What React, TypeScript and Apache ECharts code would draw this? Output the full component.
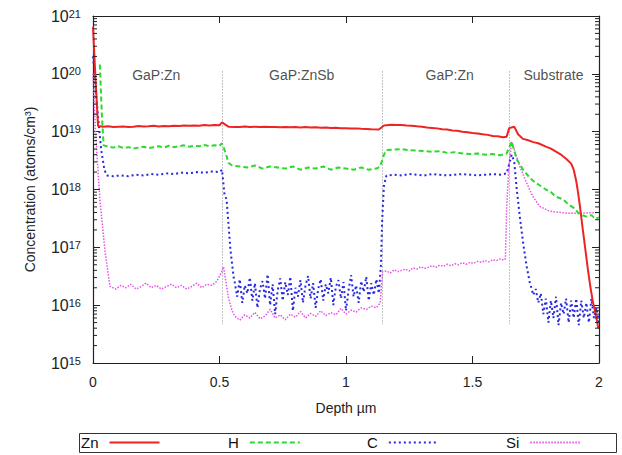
import React, { useEffect, useRef } from "react";
import * as echarts from "echarts";

const FONT = "'Liberation Sans', Arial, Helvetica, sans-serif";

const xTicks = [0, 0.5, 1, 1.5, 2];
const yMin = 1e15;
const yMax = 1e21;
const minorMultipliers = [2, 3, 4, 5, 6, 7, 8, 9];

const boundaries = [0.51, 1.145, 1.645];
const regionLabels = [
  { name: "GaP:Zn", value: [0.25, 9.5e19] },
  { name: "GaP:ZnSb", value: [0.825, 9.5e19] },
  { name: "GaP:Zn", value: [1.41, 9.5e19] },
  { name: "Substrate", value: [1.82, 9.5e19] },
];

const znData = [
  [0, 6.5e20], [0.01, 8e19], [0.02, 1.25e19], [0.04, 1.22e19], [0.06, 1.24e19], [0.08, 1.2e19],
  [0.1, 1.22e19], [0.12, 1.23e19], [0.14, 1.2e19], [0.16, 1.22e19], [0.18, 1.25e19], [0.2, 1.23e19],
  [0.22, 1.24e19], [0.24, 1.26e19], [0.26, 1.23e19], [0.28, 1.25e19], [0.3, 1.24e19], [0.32, 1.27e19],
  [0.34, 1.25e19], [0.36, 1.28e19], [0.38, 1.26e19], [0.4, 1.28e19], [0.42, 1.27e19], [0.44, 1.3e19],
  [0.46, 1.28e19], [0.48, 1.3e19], [0.5, 1.29e19], [0.51, 1.45e19], [0.52, 1.35e19],
  [0.535, 1.22e19], [0.56, 1.21e19], [0.58, 1.2e19], [0.6, 1.23e19], [0.62, 1.21e19], [0.64, 1.22e19],
  [0.66, 1.2e19], [0.68, 1.22e19], [0.7, 1.2e19], [0.72, 1.21e19], [0.74, 1.19e19], [0.76, 1.21e19],
  [0.78, 1.19e19], [0.8, 1.2e19], [0.82, 1.18e19], [0.84, 1.2e19], [0.86, 1.18e19], [0.88, 1.19e19],
  [0.9, 1.17e19], [0.92, 1.18e19], [0.94, 1.16e19], [0.96, 1.17e19], [0.98, 1.15e19], [1.0, 1.15e19],
  [1.02, 1.13e19], [1.04, 1.14e19], [1.06, 1.12e19], [1.08, 1.11e19], [1.1, 1.1e19], [1.13, 1.09e19],
  [1.15, 1.28e19], [1.18, 1.32e19], [1.2, 1.3e19], [1.22, 1.31e19], [1.24, 1.28e19], [1.26, 1.27e19],
  [1.28, 1.24e19], [1.3, 1.22e19], [1.32, 1.18e19], [1.34, 1.16e19], [1.36, 1.14e19], [1.38, 1.1e19],
  [1.4, 1.09e19], [1.42, 1.05e19], [1.44, 1.04e19], [1.46, 1e19], [1.48, 9.8e18], [1.5, 9.5e18],
  [1.52, 9.3e18], [1.54, 9e18], [1.56, 8.8e18], [1.58, 8.4e18], [1.6, 8.3e18], [1.62, 8e18],
  [1.635, 8.2e18], [1.645, 1.15e19], [1.665, 1.22e19], [1.68, 9e18], [1.7, 7.5e18], [1.72, 7.1e18],
  [1.74, 6.6e18], [1.76, 6.3e18], [1.79, 5.5e18], [1.81, 5.1e18], [1.83, 4.5e18], [1.85, 4e18],
  [1.87, 3.4e18], [1.89, 2.8e18], [1.9, 2.2e18], [1.91, 1.4e18], [1.917, 9e17], [1.925, 5e17],
  [1.935, 2.2e17], [1.945, 1e17], [1.955, 4.5e16], [1.965, 2.2e16], [1.975, 1.2e16], [1.985, 7.5e15],
  [1.99, 6e15], [1.997, 4e15],
];

const hData = [
  [0.027, 1.45e20], [0.035, 2e19], [0.042, 5.8e18], [0.06, 5.5e18], [0.08, 5.3e18], [0.1, 5.6e18],
  [0.12, 5.2e18], [0.14, 5.4e18], [0.16, 5.1e18], [0.18, 5.3e18], [0.2, 5.5e18], [0.22, 5.2e18],
  [0.24, 5.4e18], [0.26, 5.6e18], [0.28, 5.3e18], [0.3, 5.7e18], [0.32, 5.4e18], [0.34, 5.6e18],
  [0.36, 5.8e18], [0.38, 5.5e18], [0.4, 5.7e18], [0.42, 5.6e18], [0.44, 5.9e18], [0.46, 5.6e18],
  [0.48, 5.8e18], [0.5, 5.7e18], [0.51, 6.3e18], [0.525, 4.2e18], [0.535, 2.9e18], [0.55, 2.6e18],
  [0.58, 2.5e18], [0.61, 2.4e18], [0.64, 2.6e18], [0.67, 2.3e18], [0.7, 2.5e18], [0.73, 2.4e18],
  [0.76, 2.3e18], [0.79, 2.5e18], [0.82, 2.2e18], [0.85, 2.4e18], [0.88, 2.3e18], [0.91, 2.5e18],
  [0.94, 2.2e18], [0.97, 2.4e18], [1.0, 2.3e18], [1.03, 2.2e18], [1.06, 2.4e18], [1.09, 2.2e18],
  [1.12, 2.3e18], [1.135, 2.5e18], [1.15, 4e18], [1.16, 4.8e18], [1.19, 4.9e18], [1.22, 5e18],
  [1.25, 4.8e18], [1.28, 4.7e18], [1.31, 4.6e18], [1.34, 4.5e18], [1.37, 4.6e18], [1.4, 4.3e18],
  [1.43, 4.4e18], [1.46, 4.2e18], [1.49, 4.1e18], [1.52, 4.2e18], [1.55, 4.0e18], [1.58, 4.1e18],
  [1.61, 3.9e18], [1.635, 4.2e18], [1.655, 6.7e18], [1.675, 3.3e18], [1.7, 2.2e18], [1.726, 1.6e18],
  [1.75, 1.3e18], [1.77, 1.15e18], [1.79, 1e18], [1.81, 9e17], [1.83, 7.5e17], [1.857, 6.8e17],
  [1.88, 5.5e17], [1.9, 4.8e17], [1.925, 3.7e17], [1.95, 3.4e17], [1.97, 3.6e17], [1.985, 3.1e17],
  [2.0, 3.3e17],
];

const cData = [
  [0, 2e20], [0.01, 6e19], [0.02, 1.8e19], [0.032, 5e18], [0.045, 2.2e18], [0.055, 1.75e18],
  [0.08, 1.7e18], [0.11, 1.75e18], [0.14, 1.7e18], [0.17, 1.8e18], [0.2, 1.75e18], [0.23, 1.85e18],
  [0.26, 1.8e18], [0.29, 1.9e18], [0.32, 1.85e18], [0.35, 1.95e18], [0.38, 1.9e18], [0.41, 2.0e18],
  [0.44, 1.95e18], [0.47, 2.05e18], [0.5, 2.0e18], [0.51, 2.2e18], [0.52, 8e17], [0.528, 6.8e17],
  [0.543, 9.3e16], [0.556, 3e16],
  [0.56, 2.5e16], [0.57, 1.4e16], [0.58, 2.8e16], [0.59, 1.1e16], [0.6, 2.2e16], [0.61, 1.6e16],
  [0.62, 3.0e16], [0.63, 1.2e16], [0.64, 2.4e16], [0.65, 9e15], [0.66, 1.9e16], [0.67, 2.6e16],
  [0.68, 1.3e16], [0.69, 3.4e16], [0.7, 1.0e16], [0.71, 2.3e16], [0.72, 7e15], [0.73, 1.8e16],
  [0.74, 2.9e16], [0.75, 1.2e16], [0.76, 2.5e16], [0.77, 1.5e16], [0.78, 3.1e16], [0.79, 8e15],
  [0.8, 2.0e16], [0.81, 1.4e16], [0.82, 2.7e16], [0.83, 1.1e16], [0.84, 2.2e16], [0.85, 3.2e16],
  [0.86, 1.3e16], [0.87, 2.4e16], [0.88, 9e15], [0.89, 1.9e16], [0.9, 2.8e16], [0.91, 1.2e16],
  [0.92, 2.3e16], [0.93, 1.6e16], [0.94, 3.0e16], [0.95, 1.0e16], [0.96, 2.1e16], [0.97, 2.7e16],
  [0.98, 1.3e16], [0.99, 2.5e16], [1.0, 8e15], [1.01, 1.8e16], [1.02, 3.3e16], [1.03, 1.4e16],
  [1.04, 2.2e16], [1.05, 1.1e16], [1.06, 2.6e16], [1.07, 1.7e16], [1.08, 3.1e16], [1.09, 1.2e16],
  [1.1, 2.4e16], [1.11, 1.5e16], [1.12, 2.8e16], [1.13, 1.6e16],
  [1.138, 5e16], [1.143, 3e17], [1.15, 1.2e18], [1.16, 1.75e18], [1.19, 1.8e18], [1.22, 1.75e18],
  [1.25, 1.85e18], [1.28, 1.8e18], [1.31, 1.75e18], [1.34, 1.85e18], [1.37, 1.8e18], [1.4, 1.75e18],
  [1.43, 1.8e18], [1.46, 1.85e18], [1.49, 1.8e18], [1.52, 1.75e18], [1.55, 1.8e18], [1.58, 1.85e18],
  [1.61, 1.8e18], [1.635, 1.9e18], [1.655, 4e18], [1.665, 3e18], [1.675, 1e18], [1.687, 3.4e17],
  [1.7, 1.2e17], [1.714, 4.7e16], [1.726, 2.5e16],
  [1.73, 2.2e16], [1.74, 1.5e16], [1.75, 1.9e16], [1.76, 1.1e16], [1.77, 1.6e16], [1.78, 7e15],
  [1.79, 1.3e16], [1.8, 5e15], [1.81, 1.2e16], [1.82, 6e15], [1.83, 1.4e16], [1.84, 4.5e15],
  [1.85, 1.1e16], [1.86, 7e15], [1.87, 1.3e16], [1.88, 5e15], [1.89, 1.2e16], [1.9, 6e15],
  [1.91, 1.3e16], [1.92, 4.5e15], [1.93, 1.2e16], [1.94, 6e15], [1.95, 1.1e16], [1.96, 5e15],
  [1.97, 1.3e16], [1.98, 6e15], [1.99, 9e15], [2.0, 5e15],
];

const siData = [
  [0, 1e20], [0.01, 1e19], [0.027, 6.8e17], [0.047, 9e16], [0.067, 2.1e16],
  [0.07, 2.1e16], [0.09, 1.9e16], [0.11, 2.2e16], [0.13, 2.0e16], [0.15, 2.3e16], [0.17, 1.9e16],
  [0.19, 2.1e16], [0.21, 2.4e16], [0.23, 2.0e16], [0.25, 2.2e16], [0.27, 1.9e16], [0.29, 2.1e16],
  [0.31, 2.3e16], [0.33, 2.0e16], [0.35, 2.2e16], [0.37, 1.9e16], [0.39, 2.1e16], [0.41, 2.4e16],
  [0.43, 2.0e16], [0.45, 2.3e16], [0.47, 2.2e16], [0.49, 2.6e16], [0.505, 3.5e16], [0.516, 4.6e16],
  [0.536, 1.3e16], [0.55, 8e15],
  [0.56, 6.5e15], [0.58, 5.5e15], [0.6, 6.8e15], [0.62, 6e15], [0.64, 7.5e15], [0.66, 5.8e15],
  [0.68, 6.5e15], [0.7, 8.5e15], [0.72, 6e15], [0.74, 6.8e15], [0.76, 5.6e15], [0.78, 7e15],
  [0.8, 6.2e15], [0.82, 7.8e15], [0.84, 6e15], [0.86, 7.2e15], [0.88, 6.4e15], [0.9, 8e15],
  [0.92, 6.6e15], [0.94, 7.4e15], [0.96, 6.8e15], [0.98, 8.8e15], [1.0, 7e15], [1.02, 8.2e15],
  [1.04, 7.6e15], [1.06, 9e15], [1.08, 8.4e15], [1.1, 9.6e15], [1.12, 9e15], [1.135, 1.1e16],
  [1.145, 3.8e16], [1.16, 3.9e16], [1.175, 3.6e16], [1.19, 4.1e16], [1.205, 3.8e16], [1.22, 4.0e16],
  [1.235, 4.2e16], [1.25, 3.9e16], [1.265, 4.4e16], [1.28, 4.2e16], [1.295, 4.6e16], [1.31, 4.3e16],
  [1.325, 4.5e16], [1.34, 4.8e16], [1.355, 4.5e16], [1.37, 4.9e16], [1.385, 4.7e16], [1.4, 5.1e16],
  [1.415, 4.8e16], [1.43, 5.2e16], [1.445, 5.0e16], [1.46, 5.4e16], [1.475, 5.1e16], [1.49, 5.5e16],
  [1.505, 5.3e16], [1.52, 5.7e16], [1.535, 5.5e16], [1.55, 5.9e16], [1.565, 5.6e16], [1.58, 6.1e16],
  [1.595, 5.9e16], [1.61, 6.3e16], [1.625, 6.0e16], [1.63, 6.4e16],
  [1.635, 5e17], [1.645, 3e18], [1.655, 6.7e18], [1.687, 2.5e18], [1.714, 1.3e18], [1.738, 7.6e17],
  [1.766, 5.1e17], [1.806, 4.2e17], [1.873, 3.9e17], [1.93, 3.9e17], [2.0, 4e17],
];

const seriesNames = ["Zn", "H", "C", "Si"];
const seriesColors = ["#ee2424", "#2ed82e", "#2828e0", "#e850e8"];
const legendLefts = [81, 228, 367, 506];

export default function App() {
  const ref = useRef<HTMLDivElement>(null);

  useEffect(() => {
    if (!ref.current) return;
    const chart = echarts.init(ref.current, undefined, { renderer: "svg" });

    const yLabel = (v: number) => {
      const e = Math.round(Math.log10(v));
      return `{b|10}{s|${e}}`;
    };

    // minor tick positions on the log axis (axis decoration)
    const minorTickValues: number[][] = [];
    for (let e = 15; e < 21; e++) {
      minorMultipliers.forEach((m) => minorTickValues.push([0, m * Math.pow(10, e)]));
    }

    const lineStyles: any[] = [
      { width: 2, type: "solid" },
      { width: 2, type: [5, 3] },
      { width: 2, type: [2, 3] },
      { width: 1.5, type: [1.5, 1.5] },
    ];
    const datasets = [znData, hData, cData, siData];

    const series: any[] = seriesNames.map((name, i) => ({
      name,
      type: "line",
      data: datasets[i],
      symbol: "none",
      xAxisIndex: 0,
      yAxisIndex: 0,
      z: 10 - i,
      lineStyle: { color: seriesColors[i], ...lineStyles[i] },
      itemStyle: { color: seriesColors[i] },
    }));

    series.push({
      name: "boundaries",
      type: "line",
      data: [],
      xAxisIndex: 0,
      yAxisIndex: 0,
      markLine: {
        silent: true,
        symbol: "none",
        label: { show: false },
        lineStyle: { color: "#8a8a8a", width: 1, type: [1, 2] },
        data: boundaries.map((b) => [
          { coord: [b, 1.1e20] },
          { coord: [b, 4.7e15] },
        ]),
      },
    });

    series.push({
      name: "regions",
      type: "scatter",
      data: regionLabels,
      symbolSize: 0,
      xAxisIndex: 0,
      yAxisIndex: 0,
      silent: true,
      label: {
        show: true,
        position: "inside",
        formatter: "{b}",
        color: "#222",
        fontSize: 14,
        fontFamily: FONT,
      },
    });

    series.push({
      name: "minorTicks",
      type: "custom",
      data: minorTickValues,
      xAxisIndex: 0,
      yAxisIndex: 0,
      silent: true,
      clip: false,
      z: 20,
      renderItem: (_params: any, api: any) => {
        const v = api.value(1);
        const p = api.coord([0, v]);
        const q = api.coord([2, v]);
        return {
          type: "group",
          children: [
            { type: "line", shape: { x1: p[0], y1: p[1], x2: p[0] + 4, y2: p[1] }, style: { stroke: "#222", lineWidth: 1 } },
            { type: "line", shape: { x1: q[0], y1: q[1], x2: q[0] - 4, y2: q[1] }, style: { stroke: "#222", lineWidth: 1 } },
          ],
        };
      },
    });

    const axisLineStyle = { color: "#222", width: 1.2 };
    const commonTick = { show: true, inside: true, length: 7, lineStyle: { color: "#222", width: 1 } };

    const option: any = {
      animation: false,
      backgroundColor: "#fff",
      grid: { left: 93, right: 23, top: 16, bottom: 92, containLabel: false },
      xAxis: [
        {
          type: "value",
          min: 0,
          max: 2,
          interval: 0.5,
          position: "bottom",
          name: "Depth µm",
          nameLocation: "middle",
          nameGap: 38,
          nameTextStyle: { fontSize: 14, color: "#222", fontFamily: FONT },
          axisLine: { show: true, onZero: false, lineStyle: axisLineStyle },
          axisTick: commonTick,
          axisLabel: {
            fontSize: 14,
            color: "#222",
            fontFamily: FONT,
            margin: 12,
            formatter: (v: number) => (xTicks.includes(v) ? String(v) : ""),
          },
          splitLine: { show: false },
        },
        {
          type: "value",
          min: 0,
          max: 2,
          interval: 0.5,
          position: "top",
          axisLine: { show: true, onZero: false, lineStyle: axisLineStyle },
          axisTick: commonTick,
          axisLabel: { show: false },
          splitLine: { show: false },
        },
      ],
      yAxis: [
        {
          type: "log",
          logBase: 10,
          min: yMin,
          max: yMax,
          interval: 1,
          position: "left",
          name: "Concentration (atoms/cm³)",
          nameLocation: "middle",
          nameGap: 56,
          nameTextStyle: { fontSize: 14, color: "#222", fontFamily: FONT },
          axisLine: { show: true, onZero: false, lineStyle: axisLineStyle },
          axisTick: commonTick,
          axisLabel: {
            formatter: yLabel,
            margin: 12,
            rich: {
              b: { fontSize: 16, lineHeight: 16, padding: [6, 0, 0, 0], verticalAlign: "bottom", color: "#222", fontFamily: FONT },
              s: { fontSize: 11, lineHeight: 11, verticalAlign: "top", color: "#222", fontFamily: FONT },
            },
          },
          splitLine: { show: false },
        },
        {
          type: "log",
          logBase: 10,
          min: yMin,
          max: yMax,
          interval: 1,
          position: "right",
          axisLine: { show: true, onZero: false, lineStyle: axisLineStyle },
          axisTick: commonTick,
          axisLabel: { show: false },
          splitLine: { show: false },
        },
      ],
      legend: seriesNames.map((name, i) => ({
        data: [name],
        left: legendLefts[i],
        top: 435,
        align: "right",
        itemWidth: 50,
        itemHeight: 14,
        padding: 0,
        selectedMode: false,
        itemStyle: { opacity: 0, borderWidth: 0 },
        textStyle: { fontSize: 15, color: "#111", fontFamily: FONT, padding: [0, 6, 0, 0] },
      })),
      graphic: [
        {
          type: "rect",
          shape: { x: 79.5, y: 433.5, width: 537, height: 19 },
          style: { fill: "none", stroke: "#333", lineWidth: 1 },
          silent: true,
        },
      ],
      series,
    };

    chart.setOption(option);
    return () => chart.dispose();
  }, []);

  return (
    <div
      ref={ref}
      style={{ position: "absolute", left: 0, top: 0, width: 622, height: 455 }}
    />
  );
}
